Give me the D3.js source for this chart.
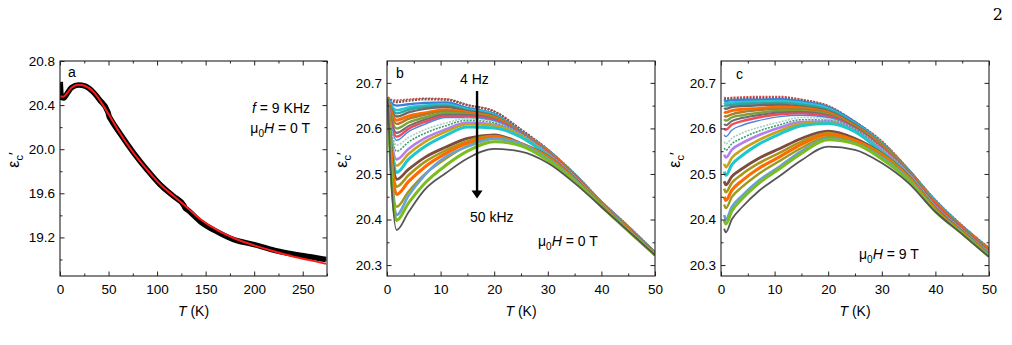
<!DOCTYPE html>
<html>
<head>
<meta charset="utf-8">
<script src="https://cdn.jsdelivr.net/npm/d3@7"></script>
<style>
  body { margin: 0; background: #fff; }
  svg text { font-family: "Liberation Sans", Arial, sans-serif; fill: #000; }
</style>
</head>
<body>
<svg id="fig" width="1012" height="345"></svg>
<script>
// ---------- data ----------
// panel a: f = 9 kHz, 0 T  (T in K, eps_c')
const dataA = [[0.3, 20.61], [0.8, 20.52], [1.5, 20.47], [4, 20.465], [7, 20.5], [12, 20.56], [19, 20.583],
  [26, 20.572], [34, 20.52], [41, 20.445], [49.5, 20.335], [50.5, 20.3], [52, 20.275], [62, 20.14],
  [76, 19.965], [90, 19.81], [103, 19.68], [117, 19.573], [127.5, 19.49], [129, 19.465], [131, 19.452],
  [145, 19.34], [162, 19.25], [179, 19.18], [200, 19.135], [221, 19.083], [241, 19.047], [262, 19.017], [274, 19.0]];
const fitA = [[0.5, 20.48], [3, 20.475], [7, 20.505], [12, 20.56], [19, 20.585], [26, 20.573], [35, 20.515],
  [42, 20.432], [50, 20.318], [60, 20.17], [76, 19.962], [90, 19.81], [103, 19.682], [117, 19.575],
  [130, 19.478], [145, 19.362], [162, 19.265], [180, 19.19], [200, 19.128], [221, 19.072], [241, 19.025],
  [262, 18.985], [274, 18.96]];

// panel b: 0 T, 4 Hz (top) ... 50 kHz (bottom); index 0 = 50 kHz
const tempsB = [0.15, 0.7, 1.8, 4, 7, 11, 15, 20, 25, 30, 35, 40, 45, 50];
const seriesB = [
  [20.665, 20.507, 20.377, 20.416, 20.465, 20.502, 20.534, 20.555, 20.549, 20.524, 20.480, 20.428, 20.375, 20.322],
  [20.665, 20.518, 20.398, 20.436, 20.479, 20.519, 20.550, 20.571, 20.562, 20.530, 20.484, 20.429, 20.375, 20.322],
  [20.665, 20.525, 20.410, 20.452, 20.497, 20.538, 20.560, 20.577, 20.566, 20.533, 20.486, 20.429, 20.376, 20.323],
  [20.665, 20.535, 20.428, 20.461, 20.499, 20.534, 20.562, 20.579, 20.566, 20.535, 20.487, 20.430, 20.376, 20.323],
  [20.665, 20.550, 20.455, 20.483, 20.515, 20.545, 20.568, 20.581, 20.566, 20.537, 20.488, 20.430, 20.377, 20.323],
  [20.665, 20.559, 20.472, 20.497, 20.526, 20.552, 20.572, 20.583, 20.566, 20.538, 20.489, 20.431, 20.377, 20.323],
  [20.665, 20.568, 20.488, 20.510, 20.536, 20.559, 20.578, 20.586, 20.567, 20.539, 20.490, 20.431, 20.378, 20.324],
  [20.665, 20.576, 20.503, 20.532, 20.560, 20.585, 20.603, 20.601, 20.581, 20.541, 20.491, 20.432, 20.378, 20.324],
  [20.665, 20.584, 20.518, 20.544, 20.570, 20.593, 20.609, 20.606, 20.584, 20.542, 20.492, 20.432, 20.378, 20.324],
  [20.665, 20.592, 20.532, 20.555, 20.578, 20.598, 20.613, 20.608, 20.584, 20.543, 20.493, 20.433, 20.379, 20.324],
  [20.665, 20.602, 20.550, 20.570, 20.589, 20.606, 20.618, 20.612, 20.586, 20.544, 20.493, 20.433, 20.379, 20.325],
  [20.665, 20.609, 20.563, 20.580, 20.597, 20.612, 20.622, 20.614, 20.587, 20.545, 20.494, 20.434, 20.380, 20.325],
  [20.665, 20.615, 20.574, 20.593, 20.609, 20.624, 20.624, 20.617, 20.589, 20.546, 20.494, 20.434, 20.380, 20.325],
  [20.665, 20.619, 20.582, 20.599, 20.614, 20.627, 20.627, 20.619, 20.589, 20.547, 20.495, 20.435, 20.381, 20.325],
  [20.665, 20.624, 20.590, 20.605, 20.619, 20.630, 20.629, 20.620, 20.589, 20.547, 20.496, 20.435, 20.381, 20.326],
  [20.665, 20.629, 20.600, 20.613, 20.624, 20.634, 20.631, 20.622, 20.589, 20.548, 20.496, 20.436, 20.382, 20.326],
  [20.665, 20.635, 20.610, 20.621, 20.630, 20.638, 20.633, 20.623, 20.590, 20.549, 20.497, 20.436, 20.382, 20.326],
  [20.665, 20.639, 20.618, 20.627, 20.634, 20.641, 20.635, 20.625, 20.590, 20.550, 20.497, 20.437, 20.382, 20.326],
  [20.665, 20.644, 20.626, 20.635, 20.643, 20.647, 20.638, 20.627, 20.591, 20.551, 20.498, 20.437, 20.383, 20.327],
  [20.666, 20.648, 20.633, 20.641, 20.647, 20.650, 20.640, 20.628, 20.591, 20.551, 20.498, 20.438, 20.383, 20.327],
  [20.666, 20.652, 20.640, 20.646, 20.650, 20.653, 20.642, 20.630, 20.591, 20.552, 20.499, 20.438, 20.384, 20.327],
  [20.667, 20.657, 20.650, 20.653, 20.656, 20.657, 20.645, 20.632, 20.593, 20.553, 20.499, 20.439, 20.384, 20.327],
  [20.668, 20.661, 20.658, 20.661, 20.664, 20.663, 20.651, 20.637, 20.597, 20.553, 20.500, 20.439, 20.385, 20.328],
  [20.669, 20.664, 20.662, 20.664, 20.666, 20.665, 20.652, 20.638, 20.598, 20.554, 20.500, 20.440, 20.385, 20.328]
];

// panel c: 9 T, same frequencies
const tempsC = [0.6, 0.9, 2, 4, 7, 11, 15, 20, 25, 30, 35, 40, 45, 50];
const seriesC = [
  [20.380, 20.372, 20.400, 20.428, 20.462, 20.496, 20.530, 20.560, 20.553, 20.524, 20.480, 20.417, 20.368, 20.318],
  [20.398, 20.390, 20.418, 20.446, 20.479, 20.512, 20.545, 20.575, 20.566, 20.533, 20.486, 20.418, 20.369, 20.319],
  [20.410, 20.400, 20.427, 20.453, 20.485, 20.517, 20.550, 20.577, 20.567, 20.536, 20.489, 20.419, 20.370, 20.320],
  [20.433, 20.425, 20.449, 20.472, 20.500, 20.529, 20.557, 20.581, 20.569, 20.539, 20.491, 20.420, 20.370, 20.321],
  [20.450, 20.442, 20.464, 20.486, 20.512, 20.538, 20.565, 20.587, 20.573, 20.541, 20.493, 20.422, 20.371, 20.321],
  [20.468, 20.460, 20.480, 20.500, 20.523, 20.547, 20.571, 20.590, 20.574, 20.544, 20.494, 20.423, 20.372, 20.322],
  [20.484, 20.476, 20.494, 20.512, 20.534, 20.556, 20.578, 20.594, 20.578, 20.545, 20.495, 20.424, 20.373, 20.323],
  [20.505, 20.497, 20.520, 20.541, 20.565, 20.588, 20.606, 20.611, 20.593, 20.548, 20.497, 20.425, 20.374, 20.324],
  [20.522, 20.515, 20.535, 20.554, 20.574, 20.595, 20.610, 20.613, 20.593, 20.549, 20.498, 20.426, 20.375, 20.325],
  [20.542, 20.536, 20.553, 20.568, 20.585, 20.602, 20.614, 20.615, 20.594, 20.552, 20.499, 20.427, 20.375, 20.326],
  [20.557, 20.552, 20.566, 20.579, 20.594, 20.608, 20.619, 20.618, 20.597, 20.553, 20.500, 20.428, 20.376, 20.327],
  [20.571, 20.566, 20.578, 20.590, 20.602, 20.614, 20.624, 20.621, 20.598, 20.555, 20.501, 20.429, 20.377, 20.328],
  [20.586, 20.582, 20.596, 20.607, 20.617, 20.626, 20.629, 20.624, 20.599, 20.556, 20.502, 20.431, 20.378, 20.328],
  [20.600, 20.597, 20.608, 20.616, 20.624, 20.631, 20.633, 20.627, 20.600, 20.558, 20.503, 20.432, 20.379, 20.329],
  [20.610, 20.607, 20.616, 20.623, 20.629, 20.635, 20.636, 20.629, 20.602, 20.559, 20.503, 20.433, 20.380, 20.330],
  [20.620, 20.617, 20.624, 20.629, 20.634, 20.639, 20.638, 20.631, 20.603, 20.561, 20.504, 20.434, 20.380, 20.331],
  [20.628, 20.626, 20.631, 20.636, 20.640, 20.643, 20.642, 20.633, 20.604, 20.562, 20.505, 20.435, 20.381, 20.332],
  [20.637, 20.635, 20.639, 20.642, 20.644, 20.647, 20.645, 20.635, 20.605, 20.564, 20.506, 20.436, 20.382, 20.333],
  [20.645, 20.643, 20.647, 20.649, 20.651, 20.652, 20.648, 20.638, 20.608, 20.565, 20.507, 20.437, 20.383, 20.334],
  [20.652, 20.650, 20.652, 20.654, 20.655, 20.656, 20.652, 20.641, 20.609, 20.567, 20.507, 20.438, 20.384, 20.335],
  [20.657, 20.655, 20.657, 20.658, 20.659, 20.660, 20.656, 20.644, 20.611, 20.568, 20.508, 20.440, 20.385, 20.335],
  [20.662, 20.660, 20.662, 20.663, 20.663, 20.664, 20.659, 20.647, 20.614, 20.569, 20.509, 20.441, 20.385, 20.336],
  [20.666, 20.664, 20.665, 20.666, 20.667, 20.667, 20.662, 20.648, 20.614, 20.571, 20.509, 20.442, 20.386, 20.337],
  [20.669, 20.667, 20.668, 20.669, 20.670, 20.670, 20.664, 20.650, 20.615, 20.572, 20.510, 20.443, 20.387, 20.338]
];

// ticks
const xTicksA = [0, 50, 100, 150, 200, 250];
const xMinorA = [25, 75, 125, 175, 225, 275];
const yTicksA = [19.2, 19.6, 20.0, 20.4, 20.8];
const yMinorA = [19.0, 19.4, 19.8, 20.2, 20.6];
const xTicksBC = [0, 10, 20, 30, 40, 50];
const xMinorBC = [5, 15, 25, 35, 45];
const yTicksBC = [20.3, 20.4, 20.5, 20.6, 20.7];
const yMinorBC = [20.35, 20.45, 20.55, 20.65];

// ---------- styles ----------
const curveColors = ['#555555', '#7bbd1e', '#6a9fd8', '#9c9a1c', '#ff6a00', '#a8981a', '#7e4b3f', '#1ec7cc',
  '#c9a21a', '#b27ff0', '#3f9e6a', '#a6cfc4', '#4f83e0', '#ee4b5b', '#6e6e6e', '#7aa23a',
  '#b07a2a', '#ff6a00', '#6a6a6a', '#2fa7a0', '#2bc2d2', '#3b7fdc', '#7a5a50', '#e84a4a'];
const curveWidths = [1.8, 3, 2.6, 2.4, 3.2, 2.6, 2.8, 3, 2.6, 2.6, 1.6, 1.6, 1.4, 2.4,
  2.2, 2.4, 2.4, 3, 2.4, 2.4, 2.6, 2.4, 2.4, 1.6];

const svg = d3.select('#fig');

// page number
svg.append('text').attr('x', 1003).attr('y', 20).attr('text-anchor', 'end')
  .style('font-family', '"DejaVu Serif", "Liberation Serif", serif').style('font-size', '16px').text('2');

const plotTop = 61, plotBottom = 276;

function makePanel(id, left, right, xDomain, yDomain, xTicks, xMinor, yTicks, yMinor, yFmt, labelX) {
  const x = d3.scaleLinear().domain(xDomain).range([left, right]);
  const y = d3.scaleLinear().domain(yDomain).range([plotBottom, plotTop]);
  const g = svg.append('g');

  g.append('clipPath').attr('id', 'clip-' + id)
    .append('rect').attr('x', left).attr('y', plotTop).attr('width', right - left).attr('height', plotBottom - plotTop);

  const plot = g.append('g').attr('clip-path', `url(#clip-${id})`);

  // axes, ticks inward on all four sides
  const axes = [
    [d3.axisBottom(x), `translate(0,${plotBottom})`, true],
    [d3.axisTop(x), `translate(0,${plotTop})`, false],
  ];
  axes.forEach(([ax, tr, lab]) => {
    g.append('g').attr('transform', tr)
      .call(ax.tickValues(xTicks).tickSize(-4.5).tickPadding(8).tickFormat(lab ? d3.format('d') : ''));
    g.append('g').attr('transform', tr)
      .call(ax.tickValues(xMinor).tickSize(-2.5).tickFormat(''));
  });
  const yaxes = [
    [d3.axisLeft(y), `translate(${left},0)`, true],
    [d3.axisRight(y), `translate(${right},0)`, false],
  ];
  yaxes.forEach(([ax, tr, lab]) => {
    g.append('g').attr('transform', tr)
      .call(ax.tickValues(yTicks).tickSize(-4.5).tickPadding(5).tickFormat(lab ? d3.format(yFmt) : ''));
    g.append('g').attr('transform', tr)
      .call(ax.tickValues(yMinor).tickSize(-2.5).tickFormat(''));
  });
  g.selectAll('.domain').remove();
  g.selectAll('.tick line').attr('stroke', '#222').attr('stroke-width', 1);
  g.selectAll('.tick text').style('font-size', '13.5px').style('font-family', '"Liberation Sans", Arial, sans-serif');

  g.append('rect').attr('x', left).attr('y', plotTop).attr('width', right - left).attr('height', plotBottom - plotTop)
    .attr('fill', 'none').attr('stroke', '#222').attr('stroke-width', 1.1);

  // x label
  const xl = g.append('text').attr('x', (left + right) / 2).attr('y', 316)
    .attr('text-anchor', 'middle').style('font-size', '14px');
  xl.append('tspan').style('font-style', 'italic').text('T');
  xl.append('tspan').text(' (K)');

  // y label  eps_c'
  const yl = g.append('text').attr('transform', `translate(${labelX},160) rotate(-90)`)
    .attr('text-anchor', 'middle').style('font-size', '16px');
  yl.append('tspan').text('ε');
  yl.append('tspan').attr('dy', 4).style('font-size', '11px').text('c');
  yl.append('tspan').attr('dy', -4).style('font-size', '15px').text('\u2032');

  return { x, y, g, plot };
}

function mu0H(g, xPos, yPos, value) {
  const t = g.append('text').attr('x', xPos).attr('y', yPos).style('font-size', '14px');
  t.append('tspan').text('μ');
  t.append('tspan').attr('dy', 4).style('font-size', '10px').text('0');
  t.append('tspan').attr('dy', -4).style('font-style', 'italic').text('H');
  t.append('tspan').text(` = ${value} T`);
  return t;
}

// ---------- panel a ----------
const pa = makePanel('a', 60, 327, [0, 275], [18.85, 20.8], xTicksA, xMinorA, yTicksA, yMinorA, '.1f', 19);
const lineA = d3.line().x(d => pa.x(d[0])).y(d => pa.y(d[1])).curve(d3.curveMonotoneX);
pa.plot.append('path').datum(dataA).attr('d', lineA)
  .attr('fill', 'none').attr('stroke', '#000').attr('stroke-width', 5.5).attr('stroke-linejoin', 'round');
pa.plot.append('path').datum(fitA).attr('d', lineA)
  .attr('fill', 'none').attr('stroke', '#ff1a1a').attr('stroke-width', 2);
pa.g.append('text').attr('x', 68).attr('y', 77).style('font-size', '14px').text('a');
const fa = pa.g.append('text').attr('x', 310).attr('y', 113).attr('text-anchor', 'end').style('font-size', '14px');
fa.append('tspan').style('font-style', 'italic').text('f');
fa.append('tspan').text(' = 9 KHz');
mu0H(pa.g, 310, 133, 0).attr('text-anchor', 'end');

// ---------- panels b and c ----------
function drawFamily(p, temps, series) {
  const line = d3.line().x(d => p.x(d[0])).y(d => p.y(d[1])).curve(d3.curveMonotoneX);
  const idx = d3.range(series.length).reverse();
  idx.forEach(i => {
    const pts = temps.map((t, j) => [t, series[i][j]]);
    const path = p.plot.append('path').datum(pts).attr('d', line)
      .attr('fill', 'none').attr('stroke', curveColors[i]).attr('stroke-width', curveWidths[i])
      .attr('stroke-linejoin', 'round');
    if (i === 10 || i === 11 || i >= 22) path.attr('stroke-dasharray', '2,1.2');
  });
}

const pb = makePanel('b', 387, 655, [0, 50], [20.276, 20.748], xTicksBC, xMinorBC, yTicksBC, yMinorBC, '.1f', 347);
drawFamily(pb, tempsB, seriesB);
pb.g.append('text').attr('x', 396).attr('y', 78).style('font-size', '14px').text('b');
pb.g.append('text').attr('x', 460).attr('y', 84).style('font-size', '14px').text('4 Hz');
pb.g.append('text').attr('x', 470).attr('y', 222).style('font-size', '14px').text('50 kHz');
// arrow 4 Hz -> 50 kHz
const arrowT = 16.8, arrowTop = 20.682, arrowTip = 20.446;
pb.g.append('line').attr('x1', pb.x(arrowT)).attr('x2', pb.x(arrowT))
  .attr('y1', pb.y(arrowTop)).attr('y2', pb.y(arrowTip) - 5)
  .attr('stroke', '#000').attr('stroke-width', 2.4);
pb.g.append('path')
  .attr('d', `M${pb.x(arrowT) - 5.5},${pb.y(arrowTip) - 8} L${pb.x(arrowT) + 5.5},${pb.y(arrowTip) - 8} L${pb.x(arrowT)},${pb.y(arrowTip)} Z`)
  .attr('fill', '#000');
mu0H(pb.g, 538, 246, 0);

const pc = makePanel('c', 721, 989, [0, 50], [20.276, 20.748], xTicksBC, xMinorBC, yTicksBC, yMinorBC, '.1f', 680);
drawFamily(pc, tempsC, seriesC);
pc.g.append('text').attr('x', 736).attr('y', 79).style('font-size', '14px').text('c');
mu0H(pc.g, 859, 259, 9);
</script>
</body>
</html>
